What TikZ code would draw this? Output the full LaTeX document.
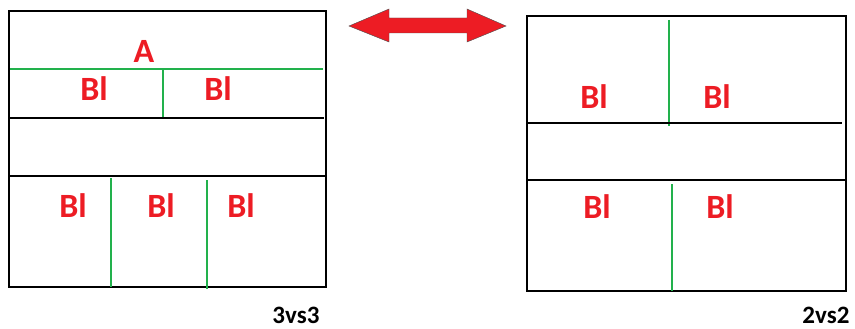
\documentclass[tikz,border=0pt]{standalone}
\usepackage{fontspec}
\setmainfont{Carlito}
\definecolor{lred}{HTML}{ED1C24}
\definecolor{lgreen}{HTML}{22B14C}
\begin{document}
\begin{tikzpicture}[x=1pt,y=-1pt,
  frame/.style={draw=black,line width=2.4pt},
  netline/.style={draw=black,line width=1.6pt},
  split/.style={draw=lgreen,line width=2.4pt},
  lbl/.style={text=lred,font=\bfseries\fontsize{34}{34}\selectfont,inner sep=0pt},
  tag/.style={text=black,font=\bfseries\fontsize{25}{25}\selectfont,inner sep=0pt}]
\useasboundingbox (0,0) rectangle (855,329);
\fill[white] (0,0) rectangle (855,329);

% left court: 3 vs 3
\draw[frame] (9,11) rectangle (326,287);
\draw[split] (10,69) -- (323,69);
\draw[split] (163,69) -- (163,118);
\draw[netline] (10,118) -- (324,118);
\draw[frame] (9,176) -- (326,176);
\draw[split] (111,178) -- (111,287);
\draw[split] (207,180) -- (207,289);
\node[lbl] (a) at (144,51) {A};
\node[lbl] (l1) at (94,89) {Bl};
\node[lbl] (l2) at (218,89) {Bl};
\node[lbl] (l3) at (73,206) {Bl};
\node[lbl] (l4) at (161,206) {Bl};
\node[lbl] (l5) at (241,206) {Bl};
\node[tag] (c1) at (296,315) {3vs3};

% right court: 2 vs 2
\draw[frame] (527,16) rectangle (846,291);
\draw[split] (669,20) -- (669,126);
\draw[netline] (528,123) -- (842,123);
\draw[frame] (527,180) -- (846,180);
\draw[split] (672,184) -- (672,291);
\node[lbl] (r1) at (594,97) {Bl};
\node[lbl] (r2) at (717,97) {Bl};
\node[lbl] (r3) at (597,207) {Bl};
\node[lbl] (r4) at (720,207) {Bl};
\node[tag] (c2) at (826,315) {2vs2};

% double-headed block arrow
\filldraw[fill=lred,draw=black!70,line width=0.4pt]
  (349,26) -- (389,9) -- (389,18) -- (467,18) -- (467,9) -- (506,26)
  -- (467,42) -- (467,33) -- (389,33) -- (389,42) -- cycle;
\end{tikzpicture}
\end{document}
